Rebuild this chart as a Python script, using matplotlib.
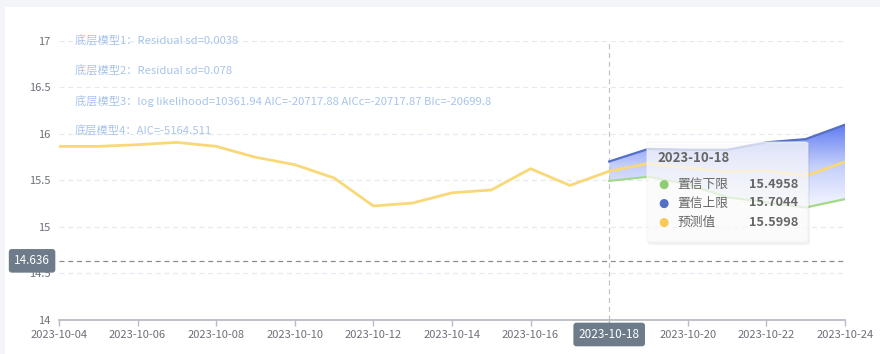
import numpy as np
import matplotlib
matplotlib.use("Agg")
import matplotlib.pyplot as plt
from matplotlib.patches import Polygon, FancyBboxPatch, Rectangle
from matplotlib.colors import LinearSegmentedColormap
import matplotlib.transforms as mtrans

plt.rcParams['font.family'] = ['Noto Sans CJK SC', 'DejaVu Sans']

# ---------------- data ----------------
dates = ['2023-10-04', '2023-10-05', '2023-10-06', '2023-10-07', '2023-10-08',
         '2023-10-09', '2023-10-10', '2023-10-11', '2023-10-12', '2023-10-13',
         '2023-10-14', '2023-10-15', '2023-10-16', '2023-10-17', '2023-10-18',
         '2023-10-19', '2023-10-20', '2023-10-21', '2023-10-22', '2023-10-23',
         '2023-10-24']
history = [15.867, 15.867, 15.885, 15.91, 15.867, 15.75, 15.67, 15.527, 15.226,
           15.258, 15.368, 15.398, 15.627, 15.447, 15.5998]
forecast_dates = dates[14:]
pred = [15.5998, 15.684, 15.634, 15.595, 15.605, 15.55, 15.70]
lower = [15.4958, 15.54, 15.46, 15.32, 15.265, 15.21, 15.30]
upper = [15.7044, 15.84, 15.83, 15.83, 15.91, 15.945, 16.10]
crosshair_value = 14.636
crosshair_date = '2023-10-18'
model_notes = ['底层模型1：Residual sd=0.0038',
               '底层模型2：Residual sd=0.078',
               '底层模型3：log likelihood=10361.94 AIC=-20717.88 AICc=-20717.87 BIc=-20699.8',
               '底层模型4：AIC=-5164.511']
tooltip_names = ['置信下限', '置信上限', '预测值']
yticks = [14, 14.5, 15, 15.5, 16, 16.5, 17]

# ---------------- figure ----------------
W, H = 880, 354
AXW, AXH = 845 - 59, 320 - 41
fig = plt.figure(figsize=(W / 100, H / 100), dpi=100)
fig.patch.set_facecolor('#f4f5f9')
fig.patches.append(Rectangle((5 / W, 0), 1, 1 - 7 / H, transform=fig.transFigure,
                             facecolor='white', edgecolor='none', zorder=-5))

ax = fig.add_axes([59 / W, 1 - 320 / H, AXW / W, AXH / H])
ax.set_facecolor('none')
ax.set_zorder(1)

xi = {d: i for i, d in enumerate(dates)}
xh = [xi[d] for d in dates[:len(history)]]
xf = [xi[d] for d in forecast_dates]

C_YEL = '#f9d878'
C_BLUE = '#5470c6'
C_GREEN = '#a3d98a'

# gradient band between lower and upper
verts = list(zip(xf, upper)) + list(zip(xf[::-1], lower[::-1]))
poly = Polygon(verts, closed=True, facecolor='none', edgecolor='none')
ax.add_patch(poly)
cmap = LinearSegmentedColormap.from_list('g', ['#5f7bf0', '#c4cffb', '#f4f6ff'])
grad = np.linspace(0, 1, 256).reshape(-1, 1)
im = ax.imshow(grad, extent=[xf[0], xf[-1], min(lower), max(upper)], origin='upper',
               aspect='auto', cmap=cmap, zorder=1, interpolation='bilinear')
im.set_clip_path(poly)

ax.plot(xh, history, color=C_YEL, lw=2, zorder=3, solid_joinstyle='round')
ax.plot(xf, pred, color=C_YEL, lw=2, zorder=3, solid_joinstyle='round')
ax.plot(xf, upper, color=C_BLUE, lw=1.6, zorder=3)
ax.plot(xf, lower, color=C_GREEN, lw=1.6, zorder=3)

ax.set_xlim(0, len(dates) - 1)
ax.set_ylim(14, 17)

# grid
for v in yticks[1:]:
    ax.axhline(v, color='#e5e9f0', lw=0.9, ls=(0, (4, 3)), zorder=0)

# axes styling
for s in ['top', 'right', 'left']:
    ax.spines[s].set_visible(False)
ax.spines['bottom'].set_color('#b9bcc3')
ax.spines['bottom'].set_linewidth(1.3)
ax.set_yticks(yticks)
ax.set_yticklabels([f'{v:g}' for v in yticks])
ax.tick_params(axis='y', length=0, pad=6, labelsize=8, labelcolor='#6e7079')
cx = xi[crosshair_date]
xt = list(range(0, len(dates), 2))
ax.set_xticks(xt)
ax.set_xticklabels(['' if i == cx else dates[i] for i in xt])
ax.tick_params(axis='x', length=4, width=1, color='#b9bcc3', pad=3, labelsize=8,
               labelcolor='#6e7079', direction='out')

# model notes
for k, t in enumerate(model_notes):
    ax.text(16 / AXW, 1 - (30 * k) / AXH, t, transform=ax.transAxes,
            fontsize=8.1, color='#a8c4ec', va='center', ha='left', zorder=4)

# crosshair
ax.axvline(cx, color='#c3c3c3', lw=0.9, ls=(0, (4, 3)), zorder=2)
ax.axhline(crosshair_value, color='#8d8d8d', lw=0.9, ls=(0, (4, 3)), zorder=2)
trans_y = mtrans.blended_transform_factory(ax.transAxes, ax.transData)
ax.text(-9 / AXW, crosshair_value, f'{crosshair_value:g}', transform=trans_y,
        ha='right', va='center', fontsize=8.5, color='white', zorder=6, clip_on=False,
        bbox=dict(boxstyle='round,pad=0.45,rounding_size=0.25', fc='#6e7b8a', ec='none'))
trans_x = mtrans.blended_transform_factory(ax.transData, ax.transAxes)
ax.text(cx, -8 / AXH, crosshair_date, transform=trans_x, ha='center', va='top',
        fontsize=8.5, color='white', zorder=6, clip_on=False,
        bbox=dict(boxstyle='round,pad=0.45,rounding_size=0.25', fc='#6e7b8a', ec='none'))

# tooltip
def fp(x, y):
    return (x / W, 1 - y / H)

tx0, ty0, tx1, ty1 = 647, 142, 808, 242
fig.patches.append(FancyBboxPatch(fp(tx0 + 1, ty1 + 3), (tx1 - tx0 + 1) / W, (ty1 - ty0 + 1) / H,
                                  boxstyle='round,pad=0,rounding_size=0.006',
                                  transform=fig.transFigure, fc='black', ec='none',
                                  alpha=0.05, zorder=7))
fig.patches.append(FancyBboxPatch(fp(tx0, ty1), (tx1 - tx0) / W, (ty1 - ty0) / H,
                                  boxstyle='round,pad=0,rounding_size=0.005',
                                  transform=fig.transFigure, fc='white', ec='#f0f0f0',
                                  lw=0.8, alpha=0.72, zorder=8))
fig.text(*fp(657, 158), crosshair_date, fontsize=9.5, fontweight='bold', color='#666666',
         ha='left', va='center', zorder=9)
vals = [lower[0], upper[0], pred[0]]
dot_cols = ['#91cc75', C_BLUE, '#fac858']
for k, (nm, v, c) in enumerate(zip(tooltip_names, vals, dot_cols)):
    yy = 184 + 19 * k
    fig.text(*fp(663, yy), '●', fontsize=8.5, color=c, ha='center', va='center', zorder=9,
             family='DejaVu Sans')
    fig.text(*fp(677, yy), nm, fontsize=9.2, color='#666666', ha='left', va='center', zorder=9)
    fig.text(*fp(798, yy), f'{v:.4f}', fontsize=9.2, fontweight='bold', color='#666666',
             ha='right', va='center', zorder=9)

fig.savefig('out.png', dpi=100, facecolor=fig.get_facecolor())
